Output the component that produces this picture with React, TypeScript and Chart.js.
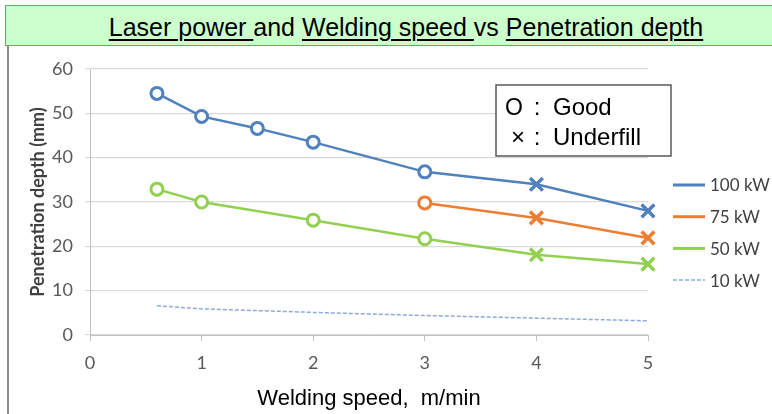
import React, { useEffect, useRef } from "react";
import { Chart, registerables } from "chart.js";

Chart.register(...registerables);

// ---- data ----
const seriesNames = ["100 kW", "75 kW", "50 kW", "10 kW"];
const speeds100 = [0.6, 1, 1.5, 2, 3, 4, 5];
const depth100 = [54.5, 49.3, 46.6, 43.5, 36.8, 34.0, 28.0];
const quality100 = ["good", "good", "good", "good", "good", "underfill", "underfill"];
const speeds75 = [3, 4, 5];
const depth75 = [29.8, 26.4, 21.9];
const quality75 = ["good", "underfill", "underfill"];
const speeds50 = [0.6, 1, 2, 3, 4, 5];
const depth50 = [32.9, 30.0, 25.9, 21.7, 18.1, 16.0];
const quality50 = ["good", "good", "good", "good", "underfill", "underfill"];
const speeds10 = [0.6, 1, 2, 3, 4, 5];
const depth10 = [6.6, 5.9, 5.1, 4.4, 3.8, 3.2];
const xTicks = [0, 1, 2, 3, 4, 5];
const yTicks = [0, 10, 20, 30, 40, 50, 60];
const titleParts = [
  { text: "Laser power ", underline: true },
  { text: "and ", underline: false },
  { text: "Welding speed ", underline: true },
  { text: "vs ", underline: false },
  { text: "Penetration depth", underline: true },
];
const xTitle = "Welding speed,  m/min";
const yTitle = "Penetration depth (mm)";
const noteRows = [
  { symbol: "O", label: "Good" },
  { symbol: "×", label: "Underfill" },
];

const colors = ["#4f81bd", "#ed7d31", "#92d050", "#8eaadb"];

const toPoints = (xs: number[], ys: number[]) => xs.map((x, i) => ({ x, y: ys[i] }));
const styleOf = (q: string[]) => q.map((v) => (v === "good" ? "circle" : "crossRot"));
const radiusOf = (q: string[]) => q.map((v) => (v === "good" ? 6 : 9));

const legendPlugin = {
  id: "customLegend",
  afterDraw(chart: any) {
    const { ctx, chartArea } = chart;
    ctx.save();
    // series legend
    const lx = chartArea.right + 25;
    const y0 = chartArea.top + 116;
    const step = 31.7;
    seriesNames.forEach((name, i) => {
      const y = y0 + i * step;
      ctx.beginPath();
      ctx.strokeStyle = colors[i];
      if (i === 3) {
        ctx.lineWidth = 1.5;
        ctx.setLineDash([4, 2]);
      } else {
        ctx.lineWidth = 3;
        ctx.setLineDash([]);
      }
      ctx.moveTo(lx, y);
      ctx.lineTo(lx + 32, y);
      ctx.stroke();
      ctx.setLineDash([]);
      ctx.fillStyle = "#404040";
      ctx.font = "17px Lato";
      ctx.textAlign = "left";
      ctx.textBaseline = "middle";
      ctx.fillText(name, lx + 37, y + 1);
    });
    // note box
    const bx = chartArea.right - 152;
    const by = chartArea.top + 16;
    const bw = 175;
    const bh = 71;
    ctx.fillStyle = "#ffffff";
    ctx.fillRect(bx, by, bw, bh);
    ctx.strokeStyle = "#595959";
    ctx.lineWidth = 1.5;
    ctx.strokeRect(bx, by, bw, bh);
    ctx.fillStyle = "#000000";
    ctx.textBaseline = "alphabetic";
    noteRows.forEach((r, i) => {
      const base = by + 30 + i * 30;
      ctx.font = i === 0 ? "23px 'Liberation Sans'" : "24px 'Liberation Sans'";
      ctx.textAlign = "center";
      ctx.fillText(r.symbol, bx + (i === 0 ? 18 : 22), base);
      ctx.font = "24px 'Liberation Sans'";
      ctx.fillText(":", bx + 41, base);
      ctx.textAlign = "left";
      ctx.fillText(r.label, bx + 57, base);
    });
    ctx.restore();
  },
};

export default function App() {
  const canvasRef = useRef<HTMLCanvasElement | null>(null);

  useEffect(() => {
    if (!canvasRef.current) return;
    const pointDs = (i: number, xs: number[], ys: number[], q: string[]) => ({
      label: seriesNames[i],
      data: toPoints(xs, ys),
      borderColor: colors[i],
      backgroundColor: "#ffffff",
      borderWidth: 2.5,
      pointStyle: styleOf(q),
      pointRadius: radiusOf(q),
      pointBorderWidth: q.map((v) => (v === "good" ? 3 : 3.5)),
      pointBackgroundColor: "#ffffff",
      pointBorderColor: colors[i],
      tension: 0,
      clip: false as any,
    });
    const chart = new Chart(canvasRef.current, {
      type: "line",
      data: {
        datasets: [
          { ...pointDs(0, speeds100, depth100, quality100), order: 1 },
          { ...pointDs(1, speeds75, depth75, quality75), order: 2 },
          { ...pointDs(2, speeds50, depth50, quality50), order: 3 },
          {
            label: seriesNames[3],
            data: toPoints(speeds10, depth10),
            borderColor: colors[3],
            borderWidth: 1.5,
            borderDash: [4, 2],
            pointRadius: 0,
            tension: 0,
            order: 4,
          },
        ],
      },
      options: {
        animation: false,
        responsive: false,
        devicePixelRatio: 1,
        layout: { padding: { left: 20, right: 124, top: 69, bottom: 2 } },
        plugins: {
          legend: { display: false },
          tooltip: { enabled: false },
        },
        scales: {
          x: {
            type: "linear",
            min: xTicks[0],
            max: xTicks[xTicks.length - 1],
            afterBuildTicks: (s: any) => {
              s.ticks = xTicks.map((v) => ({ value: v }));
            },
            ticks: {
              color: "#595959",
              font: { family: "Lato", size: 18 },
              padding: 11,
            },
            grid: {
              drawOnChartArea: false,
              drawTicks: true,
              tickLength: 6,
              color: "#bfbfbf",
            },
            border: { display: true, color: "#bfbfbf" },
            title: {
              display: true,
              text: xTitle,
              color: "#000000",
              font: { family: "Liberation Sans", size: 22 },
              padding: { top: 0, bottom: 0 },
            },
            afterFit: (s: any) => {
              s.height = 77;
            },
          },
          y: {
            min: yTicks[0],
            max: yTicks[yTicks.length - 1],
            afterBuildTicks: (s: any) => {
              s.ticks = yTicks.map((v) => ({ value: v }));
            },
            ticks: {
              color: "#595959",
              font: { family: "Lato", size: 18 },
              padding: 12,
            },
            grid: { color: "#d9d9d9", tickLength: 5, lineWidth: 1.2 },
            border: { display: true, color: "#bfbfbf" },
            title: {
              display: true,
              text: yTitle,
              color: "#404040",
              font: { family: "Lato", size: 18, weight: "bold" },
              padding: { top: 7, bottom: 0 },
            },
            afterFit: (s: any) => {
              s.width = 70;
            },
          },
        },
      },
      plugins: [legendPlugin],
    });
    return () => chart.destroy();
  }, []);

  return (
    <div
      style={{
        position: "absolute",
        left: 0,
        top: 0,
        width: 772,
        height: 414,
        background: "#ffffff",
        overflow: "hidden",
      }}
    >
      <div
        style={{
          position: "absolute",
          left: 7,
          top: 46,
          width: 1.5,
          height: 380,
          background: "#8c8c8c",
        }}
      />
      <canvas
        ref={canvasRef}
        width={772}
        height={414}
        style={{ position: "absolute", left: 0, top: 0, width: 772, height: 414 }}
      />
      <div
        style={{
          position: "absolute",
          left: 5,
          top: 5,
          width: 800,
          height: 39,
          background: "#ccffcc",
          border: "1.5px solid #5a9bd0",
          fontFamily: "'Liberation Sans', Arial, sans-serif",
          fontSize: 25,
          lineHeight: "42px",
          textAlign: "center",
          color: "#000000",
          whiteSpace: "pre",
        }}
      >
        {titleParts.map((p, i) => (
          <span
            key={i}
            style={{
              textDecoration: p.underline ? "underline" : "none",
              textDecorationThickness: "1.5px",
              textUnderlineOffset: "3px",
            }}
          >
            {p.text}
          </span>
        ))}
      </div>
    </div>
  );
}
